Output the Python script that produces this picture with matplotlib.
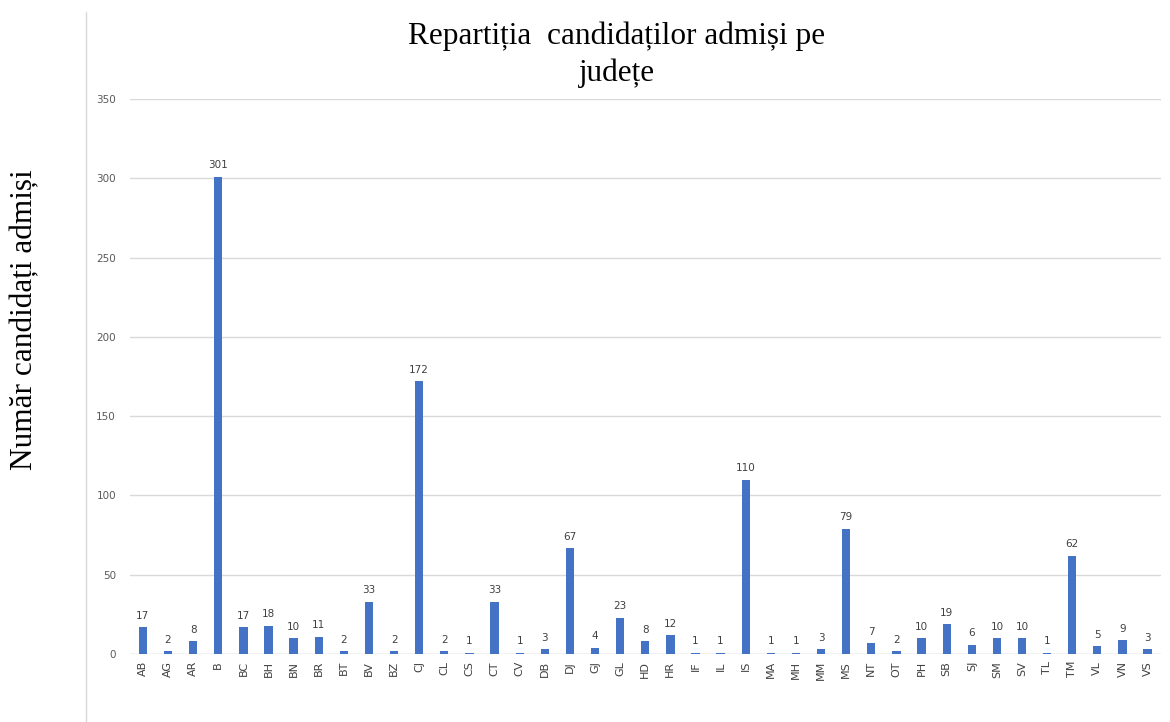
import matplotlib.pyplot as plt
from matplotlib.lines import Line2D

judete = ['AB', 'AG', 'AR', 'B', 'BC', 'BH', 'BN', 'BR', 'BT', 'BV', 'BZ', 'CJ', 'CL', 'CS',
          'CT', 'CV', 'DB', 'DJ', 'GJ', 'GL', 'HD', 'HR', 'IF', 'IL', 'IS', 'MA', 'MH', 'MM',
          'MS', 'NT', 'OT', 'PH', 'SB', 'SJ', 'SM', 'SV', 'TL', 'TM', 'VL', 'VN', 'VS']
admisi = [17, 2, 8, 301, 17, 18, 10, 11, 2, 33, 2, 172, 2, 1,
          33, 1, 3, 67, 4, 23, 8, 12, 1, 1, 110, 1, 1, 3,
          79, 7, 2, 10, 19, 6, 10, 10, 1, 62, 5, 9, 3]
y_ticks = [0, 50, 100, 150, 200, 250, 300, 350]

fig = plt.figure(figsize=(11.7, 7.22), dpi=100)
ax = fig.add_axes([0.111, 0.094, 0.881, 0.769])

x = list(range(len(judete)))
bars = ax.bar(x, admisi, width=0.33, color='#4472C4', zorder=3)
for b, v in zip(bars, admisi):
    ax.text(b.get_x() + b.get_width() / 2, v + 4, str(v), ha='center', va='bottom',
            fontsize=7.5, color='#404040')

ax.set_xlim(-0.52, 40.52)
ax.set_ylim(0, 350)
ax.set_yticks(y_ticks)
ax.set_xticks(x)
ax.set_xticklabels(judete, rotation=90, fontsize=8, color='#404040')
ax.tick_params(axis='y', labelsize=7.5, labelcolor='#595959', length=0, pad=10)
ax.tick_params(axis='x', length=0, pad=5)
ax.grid(axis='y', color='#d9d9d9', linewidth=1, zorder=0)
for s in ax.spines.values():
    s.set_visible(False)
ax.axhline(0, color='#d9d9d9', linewidth=1, zorder=2)

fig.text(0.527, 0.950, 'Repartiția  candidaților admiși pe', ha='center', va='center',
         fontsize=22.5, family='Liberation Serif')
fig.text(0.527, 0.899, 'județe', ha='center', va='center',
         fontsize=22.5, family='Liberation Serif')
fig.text(0.021, 0.557, 'Număr candidați admiși', rotation=90, ha='center', va='center',
         fontsize=22.5, family='Liberation Serif')

fig.add_artist(Line2D([0.0735, 0.0735], [0.0, 0.983], color='#d9d9d9', linewidth=1,
                      transform=fig.transFigure))

fig.savefig('out.png', dpi=100)
